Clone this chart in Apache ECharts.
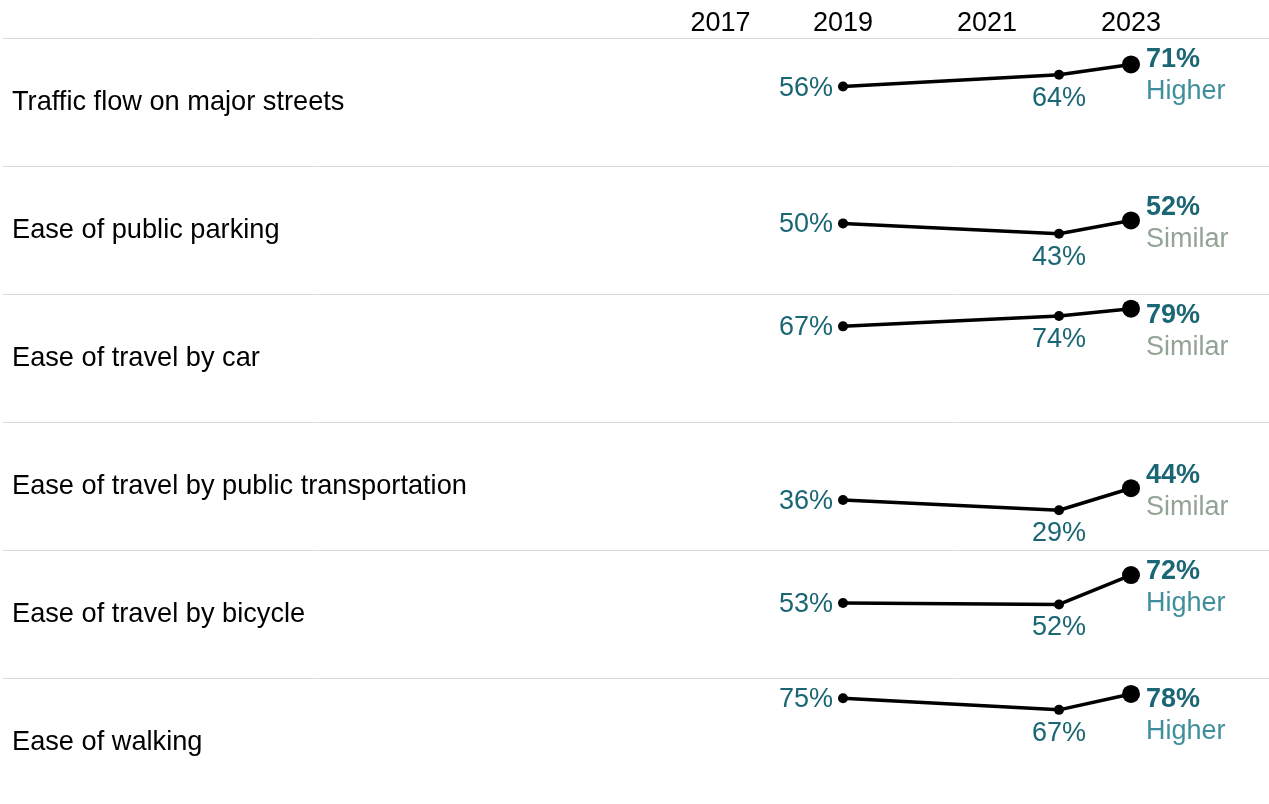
<!DOCTYPE html>
<html>
<head>
<meta charset="utf-8">
<script src="https://cdn.jsdelivr.net/npm/echarts@6/dist/echarts.min.js"></script>
<style>
  html, body { margin: 0; padding: 0; background: #fff; }
  #chart { width: 1269px; height: 804px; }
</style>
</head>
<body>
<div id="chart"></div>
<script>
const rowLabels = [
  'Traffic flow on major streets',
  'Ease of public parking',
  'Ease of travel by car',
  'Ease of travel by public transportation',
  'Ease of travel by bicycle',
  'Ease of walking',
];
const years = [2019, 2022, 2023];
const v2019 = [56, 50, 67, 36, 53, 75];
const v2022 = [64, 43, 74, 29, 52, 67];
const v2023 = [71, 52, 79, 44, 72, 78];
const status2023 = ['Higher', 'Similar', 'Similar', 'Similar', 'Higher', 'Higher'];
const yearTicks = ['2017', '2019', '2021', '2023'];
const yearTickPos = [2017.3, 2019, 2021, 2023];

const FONT = '"Liberation Sans", Arial, sans-serif';
const ROW_TOP = 38;
const ROW_H = 128;
const TEAL = '#1b6675';
const statusColor = { Higher: '#3f8e9d', Similar: '#93a396' };

const chart = echarts.init(document.getElementById('chart'));

function buildOption(offsets) {
  const grid = [], xAxis = [], yAxis = [], series = [], graphic = [];
  rowLabels.forEach((name, i) => {
    const top = ROW_TOP + ROW_H * i;
    grid.push({ left: 699, width: 504, top: top, height: ROW_H });
    xAxis.push({
      type: 'value',
      gridIndex: i,
      min: 2017,
      max: 2024,
      position: 'top',
      show: i === 0,
      axisLine: { show: false },
      axisTick: { show: false },
      splitLine: { show: false },
      axisLabel: {
        customValues: yearTickPos,
        formatter: (v) => yearTicks[yearTickPos.indexOf(v)],
        fontSize: 27,
        fontFamily: FONT,
        color: '#000',
        margin: 1,
      },
    });
    yAxis.push({ type: 'value', gridIndex: i, min: 2, max: 89, show: false });

    const vals = [v2019[i], v2022[i], v2023[i]];
    const st = status2023[i];
    const labels = [
      { show: true, position: 'left', distance: 5, offset: [0, 1.5], formatter: v2019[i] + '%',
        color: TEAL, fontSize: 27, fontFamily: FONT },
      { show: true, position: 'bottom', distance: 5, formatter: v2022[i] + '%',
        color: TEAL, fontSize: 27, fontFamily: FONT },
      { show: true, position: 'right', distance: 6, offset: [0, offsets[i]],
        formatter: '{v|' + v2023[i] + '%}\n{s|' + st + '}',
        rich: {
          v: { fontWeight: 'bold', fontSize: 27, fontFamily: FONT, color: TEAL, lineHeight: 32 },
          s: { fontSize: 27, fontFamily: FONT, color: statusColor[st], lineHeight: 32 },
        } },
    ];
    series.push({
      type: 'line',
      xAxisIndex: i,
      yAxisIndex: i,
      symbol: 'circle',
      lineStyle: { color: '#000', width: 3.5 },
      itemStyle: { color: '#000' },
      emphasis: { disabled: true },
      data: years.map((y, j) => ({
        value: [y, vals[j]],
        symbolSize: j === 2 ? 18 : 10,
        label: labels[j],
      })),
    });

    // row separator + row label
    graphic.push({
      type: 'line',
      shape: { x1: 3, y1: top + 0.5, x2: 1269, y2: top + 0.5 },
      style: { stroke: '#d9d9d9', lineWidth: 1 },
      silent: true,
    });
    graphic.push({
      type: 'text',
      x: 12,
      y: top + 65,
      style: { text: name, fontSize: 27.2, fontFamily: FONT, fill: '#000', verticalAlign: 'middle' },
      silent: true,
    });
  });
  return { animation: false, grid, xAxis, yAxis, series, graphic };
}

chart.setOption(buildOption(rowLabels.map(() => 0)));

// push the 2023 label down when it would run into the row above
const offsets = rowLabels.map((n, i) => {
  const top = ROW_TOP + ROW_H * i;
  const py = chart.convertToPixel({ gridIndex: i }, [2023, v2023[i]])[1];
  const valueCenter = Math.max(py - 13, top + 22);
  return valueCenter - py + 16;
});
chart.setOption(buildOption(offsets));
</script>
</body>
</html>
